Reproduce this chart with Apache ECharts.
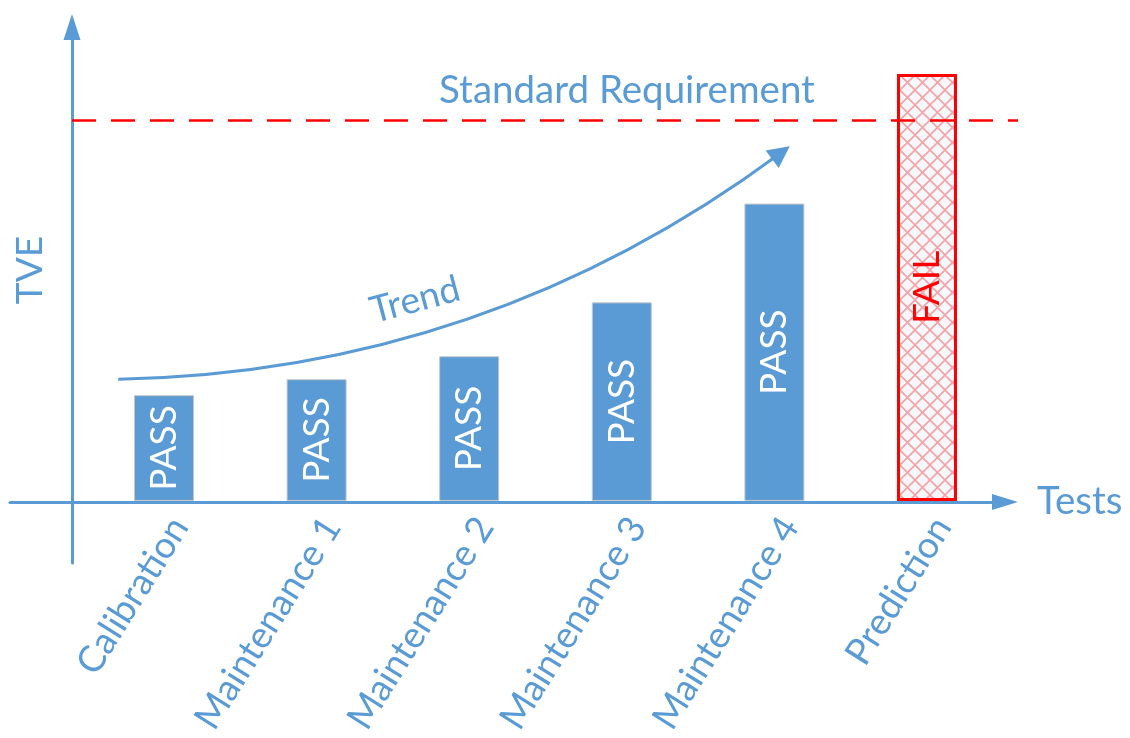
<!DOCTYPE html>
<html>
<head>
<meta charset="utf-8">
<script src="https://cdn.jsdelivr.net/npm/echarts@6/dist/echarts.min.js"></script>
<style>
html, body { margin: 0; padding: 0; background: #ffffff; }
#chart { width: 1130px; height: 738px; }
</style>
</head>
<body>
<div id="chart"></div>
<script>
// Test sequence and measured TVE per test
const categories = ['Calibration', 'Maintenance 1', 'Maintenance 2', 'Maintenance 3', 'Maintenance 4', 'Prediction'];
const tveValues = [26.5, 30.5, 36.25, 49.75, 74.5, 107];
const verdicts = ['PASS', 'PASS', 'PASS', 'PASS', 'PASS', 'FAIL'];
// Limit from the standard
const requirement = 95.5;
// Trend arrow end points: [category position, TVE]
const trendStart = [-0.30, 30.5];
const trendEnd = [4.043, 87.25];

const BLUE = '#5B9BD5';
const RED = '#FF0000';
const FONT = 'Lato';

// Cross-hatch fill for the predicted (failing) bar
function crossHatch() {
  const s = 15;
  const c = document.createElement('canvas');
  c.width = s; c.height = s;
  const g = c.getContext('2d');
  g.fillStyle = '#f5f7fb';
  g.fillRect(0, 0, s, s);
  g.strokeStyle = '#f4a2a5';
  g.lineWidth = 1.6;
  g.beginPath();
  for (const k of [-s, 0, s]) {
    g.moveTo(k, 0); g.lineTo(k + s, s);
    g.moveTo(k + s, 0); g.lineTo(k, s);
  }
  g.stroke();
  return c;
}

const barData = tveValues.map((v, i) => verdicts[i] === 'FAIL'
  ? { value: v,
      itemStyle: { color: { image: crossHatch(), repeat: 'repeat' }, borderColor: RED, borderWidth: 3 },
      label: { color: RED } }
  : v);

const axisRange = { min: -15.25, max: 118.75 };

const chart = echarts.init(document.getElementById('chart'), null, { renderer: 'canvas' });
chart.setOption({
  animation: false,
  backgroundColor: '#ffffff',
  textStyle: { fontFamily: FONT },
  grid: [
    // bars
    { left: 87.7, right: 126.7, top: 22, bottom: 236 },
    // horizontal axis line
    { left: 10, right: 125, top: 27, bottom: 175 },
    // vertical axis line and requirement line
    { left: 72, right: 112, top: 27, bottom: 175 }
  ],
  xAxis: [
    { type: 'category', gridIndex: 0, data: categories,
      axisLine: { show: false }, axisTick: { show: false }, splitLine: { show: false },
      axisLabel: { rotate: 58, margin: 10, align: 'right', verticalAlign: 'top',
                   color: BLUE, fontSize: 37, fontFamily: FONT } },
    { type: 'value', gridIndex: 0, min: -0.5, max: 5.5, show: false },
    { type: 'value', gridIndex: 1, min: 0, max: 1,
      axisLine: { show: true, onZero: true, symbol: ['none', 'triangle'], symbolSize: [16, 26],
                  lineStyle: { color: BLUE, width: 3 } },
      axisTick: { show: false }, axisLabel: { show: false }, splitLine: { show: false },
      name: 'Tests', nameLocation: 'end', nameGap: 32,
      nameTextStyle: { color: BLUE, fontSize: 38.5, fontFamily: FONT, verticalAlign: 'middle' } },
    { type: 'value', gridIndex: 2, min: 0, max: 1, show: false }
  ],
  yAxis: [
    { type: 'value', gridIndex: 0, min: 0, max: 120, show: false },
    { type: 'value', gridIndex: 1, min: axisRange.min, max: axisRange.max, show: false },
    { type: 'value', gridIndex: 2, min: axisRange.min, max: axisRange.max,
      axisLine: { show: true, onZero: false, symbol: ['none', 'triangle'], symbolSize: [17, 26],
                  lineStyle: { color: BLUE, width: 3 } },
      axisTick: { show: false }, axisLabel: { show: false }, splitLine: { show: false } }
  ],
  graphic: [
    { type: 'text', x: 30, y: 270, rotation: Math.PI / 2,
      style: { text: 'TVE', fill: BLUE, font: '37px ' + FONT, align: 'center', verticalAlign: 'middle' } },
    { type: 'text', x: 627, y: 91,
      style: { text: 'Standard Requirement', fill: BLUE, font: '38.5px ' + FONT, align: 'center', verticalAlign: 'middle' } },
    { type: 'text', x: 415, y: 300, rotation: 15 * Math.PI / 180,
      style: { text: 'Trend', fill: BLUE, font: '37px ' + FONT, align: 'center', verticalAlign: 'middle' } }
  ],
  series: [
    { type: 'bar', xAxisIndex: 0, yAxisIndex: 0, data: barData, barWidth: 60,
      itemStyle: { color: BLUE, borderColor: '#c6c6c6', borderWidth: 1 },
      label: { show: true, position: 'inside', rotate: 90,
               formatter: p => verdicts[p.dataIndex],
               color: '#ffffff', fontSize: 37, fontFamily: FONT },
      silent: true, z: 2 },
    { type: 'lines', coordinateSystem: 'cartesian2d', xAxisIndex: 1, yAxisIndex: 0,
      symbol: ['none', 'triangle'], symbolSize: 22,
      lineStyle: { color: BLUE, width: 3, opacity: 1, curveness: -0.16 },
      data: [{ coords: [trendStart, trendEnd] }],
      silent: true, z: 5 },
    { type: 'line', xAxisIndex: 3, yAxisIndex: 2, data: [], silent: true,
      markLine: { silent: true, symbol: ['none', 'none'], label: { show: false },
                  lineStyle: { color: RED, width: 2.5, type: [24, 15] },
                  data: [{ yAxis: requirement }] },
      z: 3 }
  ]
});
</script>
</body>
</html>
